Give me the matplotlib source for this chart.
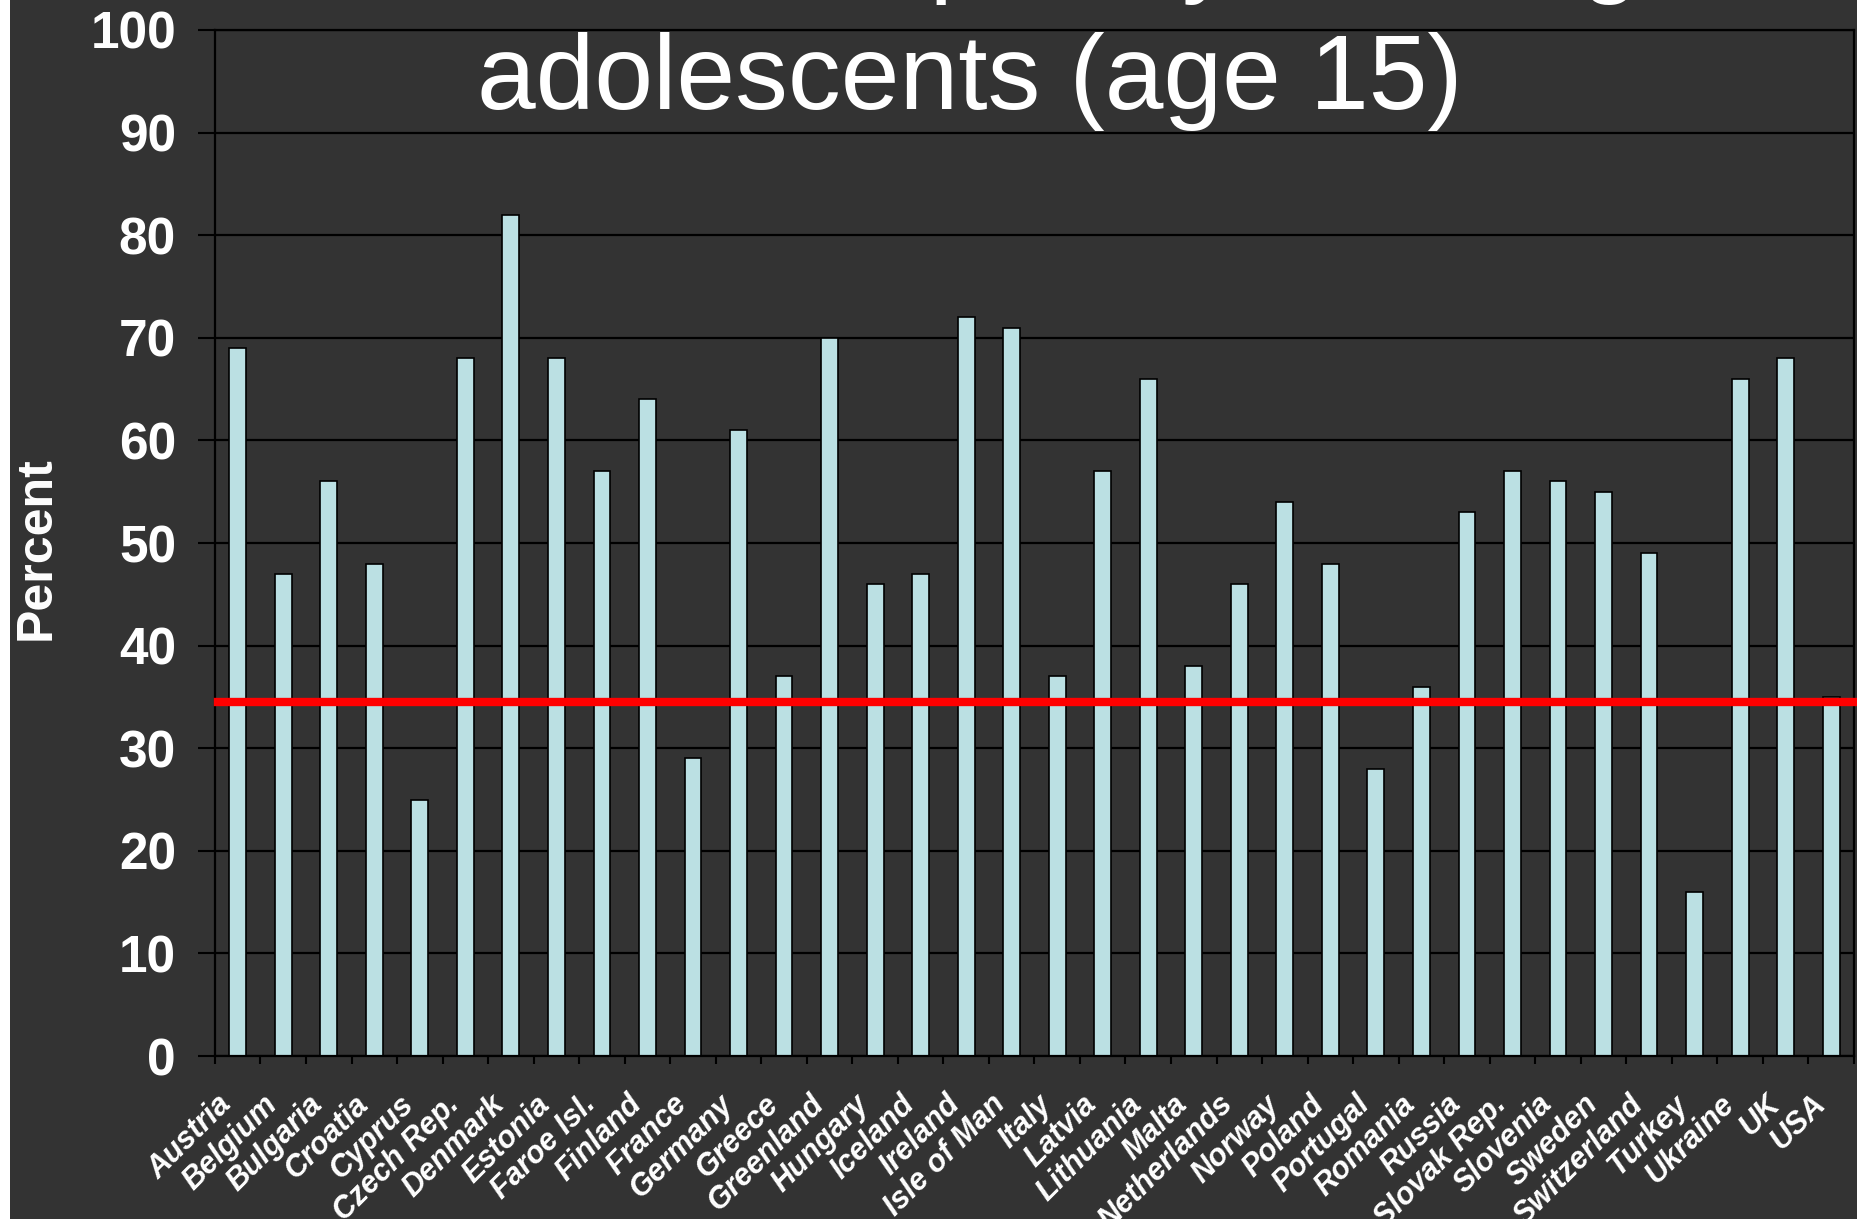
import matplotlib
matplotlib.use("Agg")
import matplotlib.pyplot as plt
from matplotlib.patches import Rectangle
from matplotlib.transforms import ScaledTranslation

# Datos del grafico
paises = ["Austria", "Belgium", "Bulgaria", "Croatia", "Cyprus", "Czech Rep.",
          "Denmark", "Estonia", "Faroe Isl.", "Finland", "France", "Germany",
          "Greece", "Greenland", "Hungary", "Iceland", "Ireland", "Isle of Man",
          "Italy", "Latvia", "Lithuania", "Malta", "Netherlands", "Norway",
          "Poland", "Portugal", "Romania", "Russia", "Slovak Rep.", "Slovenia",
          "Sweden", "Switzerland", "Turkey", "Ukraine", "UK", "USA"]
porcentajes = [69, 47, 56, 48, 25, 68, 82, 68, 57, 64, 29, 61, 37, 70, 46, 47,
               72, 71, 37, 57, 66, 38, 46, 54, 48, 28, 36, 53, 57, 56, 55, 49,
               16, 66, 68, 35]
promedio = 34.5
y_ticks = list(range(0, 101, 10))

fondo = "#333333"
celeste = "#BBE0E3"
fuente = "Liberation Sans"

fig = plt.figure(figsize=(18.58, 12.19), dpi=100, facecolor=fondo)
ax = fig.add_axes([0.1157, 0.1337, 0.8821, 0.8417])
ax.set_facecolor(fondo)

# franja blanca a la izquierda
fig.patches.append(Rectangle((0, 0), 10 / 1858, 1, transform=fig.transFigure,
                             facecolor="white", edgecolor="none"))

x = list(range(len(paises)))
ax.bar(x, porcentajes, width=0.37, color=celeste, edgecolor="black",
       linewidth=1.2, zorder=2)
ax.axhline(promedio, xmin=0.002, xmax=1.01, color="#FF0000", linewidth=6,
           clip_on=False, zorder=3)

ax.set_xlim(-0.5, len(paises) - 0.5)
ax.set_ylim(0, 100)
ax.set_yticks(y_ticks)
ax.set_yticklabels([str(v) for v in y_ticks], fontsize=37, fontweight="bold",
                   color="white", family=fuente)
ax.tick_params(axis="y", length=12, width=1.5, color="black", pad=16)
ax.yaxis.grid(True, color="black", linewidth=1.6, zorder=0)
ax.set_axisbelow(True)

ax.set_xticks(x)
ax.set_xticklabels(paises, rotation=45, ha="right", rotation_mode="anchor",
                   fontsize=22, fontweight="bold", style="italic",
                   color="white", family=fuente)
ax.tick_params(axis="x", length=0, pad=24)
# correr las etiquetas un poco a la izquierda
desplazamiento = ScaledTranslation(-0.21, 0, fig.dpi_scale_trans)
for etiqueta in ax.get_xticklabels():
    etiqueta.set_transform(etiqueta.get_transform() + desplazamiento)
ax.set_xticks([i - 0.5 for i in range(len(paises) + 1)], minor=True)
ax.tick_params(axis="x", which="minor", length=6, width=1.5, color="black")

for lado in ["left", "right", "top", "bottom"]:
    ax.spines[lado].set_color("black")
    ax.spines[lado].set_linewidth(1.6)

ax.set_ylabel("Percent", fontsize=36, fontweight="bold", color="white",
              family=fuente)
ax.yaxis.set_label_coords(-0.095, 0.495)

# titulo (primera linea cortada arriba)
fig.text(736 / 1858, 1 + 17 / 1219, "Frequency of being drunk among",
         fontsize=76, color="white", family=fuente, ha="left", va="baseline")
fig.text(0.522, 1 - 109 / 1219, "adolescents (age 15)", fontsize=76,
         color="white", family=fuente, ha="center", va="baseline")

fig.savefig("out.png", dpi=100, facecolor=fondo)
